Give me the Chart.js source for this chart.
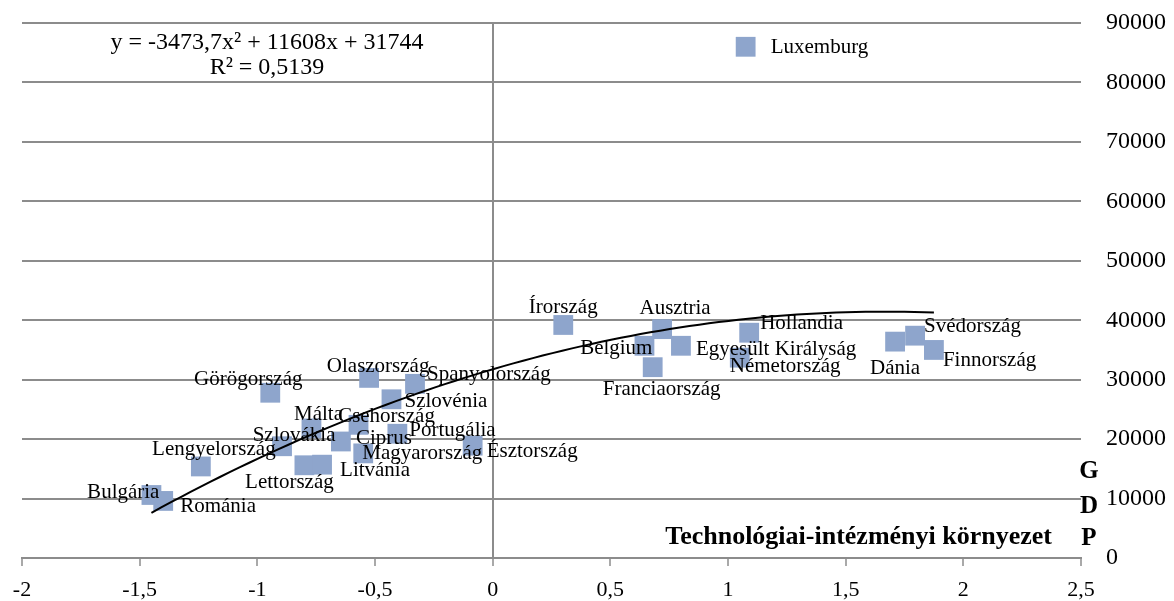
<!DOCTYPE html>
<html>
<head>
<meta charset="utf-8">
<script src="https://cdn.jsdelivr.net/npm/chart.js@4.4.1/dist/chart.umd.min.js"></script>
<style>
  html, body { margin: 0; padding: 0; background: #ffffff; }
  #wrap { width: 1174px; height: 601px; position: relative; }
</style>
</head>
<body>
<div id="wrap"><canvas id="c"></canvas></div>
<script>
// ---- Data ----
const countries = ["Bulgária","Románia","Lengyelország","Görögország","Málta","Szlovákia","Lettország","Litvánia","Csehország","Ciprus","Magyarország","Olaszország","Spanyolország","Szlovénia","Portugália","Észtország","Írország","Ausztria","Belgium","Franciaország","Egyesült Királyság","Hollandia","Németország","Dánia","Svédország","Finnország","Luxemburg"];
const techEnv = [-1.45,-1.40,-1.24,-0.945,-0.77,-0.895,-0.80,-0.725,-0.57,-0.645,-0.55,-0.525,-0.33,-0.43,-0.405,-0.085,0.30,0.72,0.645,0.68,0.80,1.09,1.05,1.71,1.795,1.875,1.075];
const gdp = [10600,9600,15400,27800,21800,18800,15600,15700,22400,19600,17600,30300,29300,26700,20900,18900,39200,38500,35700,32100,35700,37900,33700,36400,37400,35000,86000];
const xTickValues = [-2,-1.5,-1,-0.5,0,0.5,1,1.5,2,2.5];
const yTickValues = [0,10000,20000,30000,40000,50000,60000,70000,80000,90000];
// Trendline coefficients as printed on the chart (a, b, c of a*x^2 + b*x + c)
const trendCoef = [-3473.7, 11608, 31744];
const trendEquation = "y = -3473,7x² + 11608x + 31744";
const trendR2 = "R² = 0,5139";
const xTitle = "Technológiai-intézményi környezet";
const yTitle = "GDP";

// ---- Styles / label placement (not data) ----
const labelPlace = {
  "Bulgária": {dx: 8, dy: -3, align: "right"},
  "Románia": {dx: 17, dy: 6, align: "left"},
  "Lengyelország": {dx: 13, dy: -17, align: "center"},
  "Görögország": {dx: -22, dy: -13, align: "center"},
  "Málta": {dx: 7, dy: -14, align: "center"},
  "Szlovákia": {dx: 12, dy: -11, align: "center"},
  "Lettország": {dx: -15, dy: 17, align: "center"},
  "Litvánia": {dx: 18, dy: 6, align: "left"},
  "Csehország": {dx: 28, dy: -8, align: "center"},
  "Ciprus": {dx: 15, dy: -3, align: "left"},
  "Magyarország": {dx: -1, dy: 0, align: "left"},
  "Olaszország": {dx: 9, dy: -11, align: "center"},
  "Spanyolország": {dx: 12, dy: -9, align: "left"},
  "Szlovénia": {dx: 13, dy: 2, align: "left"},
  "Portugália": {dx: 12, dy: -3, align: "left"},
  "Észtország": {dx: 14, dy: 6, align: "left"},
  "Írország": {dx: 0, dy: -17, align: "center"},
  "Ausztria": {dx: 13, dy: -21, align: "center"},
  "Belgium": {dx: 8, dy: 3, align: "right"},
  "Franciaország": {dx: 9, dy: 22, align: "center"},
  "Egyesült Királyság": {dx: 15, dy: 4, align: "left"},
  "Hollandia": {dx: 11, dy: -9, align: "left"},
  "Németország": {dx: -10, dy: 9, align: "left"},
  "Dánia": {dx: 0, dy: 27, align: "center"},
  "Svédország": {dx: 9, dy: -9, align: "left"},
  "Finnország": {dx: 9, dy: 11, align: "left"},
  "Luxemburg": {dx: 25, dy: 1, align: "left"}
};
const FONT = "'Liberation Serif', 'Times New Roman', serif";
const GRID = "#8c8c8c";
const POINT = "#8ea5cc";

// ---- Build datasets ----
const scatterData = techEnv.map((x, i) => ({x: x, y: gdp[i]}));
const xMin = Math.min(...techEnv.slice(0, 26));
const xMax = Math.max(...techEnv.slice(0, 26));
const trendData = [];
const N = 80;
for (let i = 0; i <= N; i++) {
  const x = xMin + (xMax - xMin) * i / N;
  trendData.push({x: x, y: trendCoef[0] * x * x + trendCoef[1] * x + trendCoef[2]});
}

const labelsPlugin = {
  id: "labelsPlugin",
  afterDatasetsDraw(chart) {
    const ctx = chart.ctx;
    const meta = chart.getDatasetMeta(1);
    ctx.save();
    ctx.fillStyle = "#000";
    ctx.font = "21px " + FONT;
    ctx.textBaseline = "middle";
    meta.data.forEach((el, i) => {
      const name = countries[i];
      const p = labelPlace[name] || {dx: 12, dy: 0, align: "left"};
      ctx.textAlign = p.align;
      ctx.fillText(name, el.x + p.dx, el.y + p.dy);
    });
    // trendline equation
    ctx.font = "24px " + FONT;
    ctx.textAlign = "center";
    ctx.fillText(trendEquation, 267, 43);
    ctx.fillText(trendR2, 267, 68);
    // axis titles
    ctx.font = "bold 26px " + FONT;
    ctx.textAlign = "right";
    ctx.fillText(xTitle, 1052, 537);
    ctx.font = "bold 25px " + FONT;
    ctx.textAlign = "center";
    const letters = yTitle.split("");
    const ys = [472, 507, 539];
    letters.forEach((ch, k) => ctx.fillText(ch, 1089, ys[k]));
    ctx.restore();
  }
};

Chart.defaults.font.family = FONT;
Chart.defaults.color = "#000";

new Chart(document.getElementById("c"), {
  type: "scatter",
  data: {
    datasets: [
      {
        label: "Trend",
        data: trendData,
        showLine: true,
        borderColor: "#000",
        borderWidth: 2,
        pointRadius: 0,
        fill: false,
        tension: 0,
        order: 0
      },
      {
        label: "GDP",
        data: scatterData,
        pointStyle: "rect",
        pointRadius: 14,
        pointBackgroundColor: POINT,
        pointBorderWidth: 0,
        borderColor: POINT,
        showLine: false,
        order: 1
      }
    ]
  },
  options: {
    responsive: true,
    maintainAspectRatio: false,
    animation: false,
    layout: { padding: { left: 22, top: 23, right: 0, bottom: 0 } },
    plugins: { legend: { display: false }, tooltip: { enabled: false } },
    scales: {
      x: {
        type: "linear",
        position: "bottom",
        min: xTickValues[0],
        max: xTickValues[xTickValues.length - 1],
        afterBuildTicks: (s) => { s.ticks = xTickValues.map(v => ({value: v})); },
        afterFit: (s) => { s.height = 43; s.paddingLeft = 0; s.paddingRight = 0; },
        ticks: {
          font: { size: 22, family: FONT },
          color: "#000",
          padding: 11,
          maxRotation: 0,
          autoSkip: false,
          callback: (v) => String(v).replace(".", ",")
        },
        grid: {
          color: (c) => (c.tick && c.tick.value === 0 ? GRID : "rgba(0,0,0,0)"),
          lineWidth: 2,
          tickColor: GRID,
          tickLength: 8,
          tickWidth: 1.5
        },
        border: { display: true, color: GRID, width: 2 }
      },
      y: {
        type: "linear",
        position: "right",
        min: yTickValues[0],
        max: yTickValues[yTickValues.length - 1],
        afterBuildTicks: (s) => { s.ticks = yTickValues.map(v => ({value: v})); },
        afterFit: (s) => { s.width = 93; s.paddingTop = 0; s.paddingBottom = 0; },
        ticks: {
          font: { size: 24, family: FONT },
          color: "#000",
          padding: 25,
          autoSkip: false,
          callback: (v) => String(v)
        },
        grid: { color: GRID, lineWidth: 2, drawTicks: false },
        border: { display: false }
      }
    }
  },
  plugins: [labelsPlugin]
});
</script>
</body>
</html>
